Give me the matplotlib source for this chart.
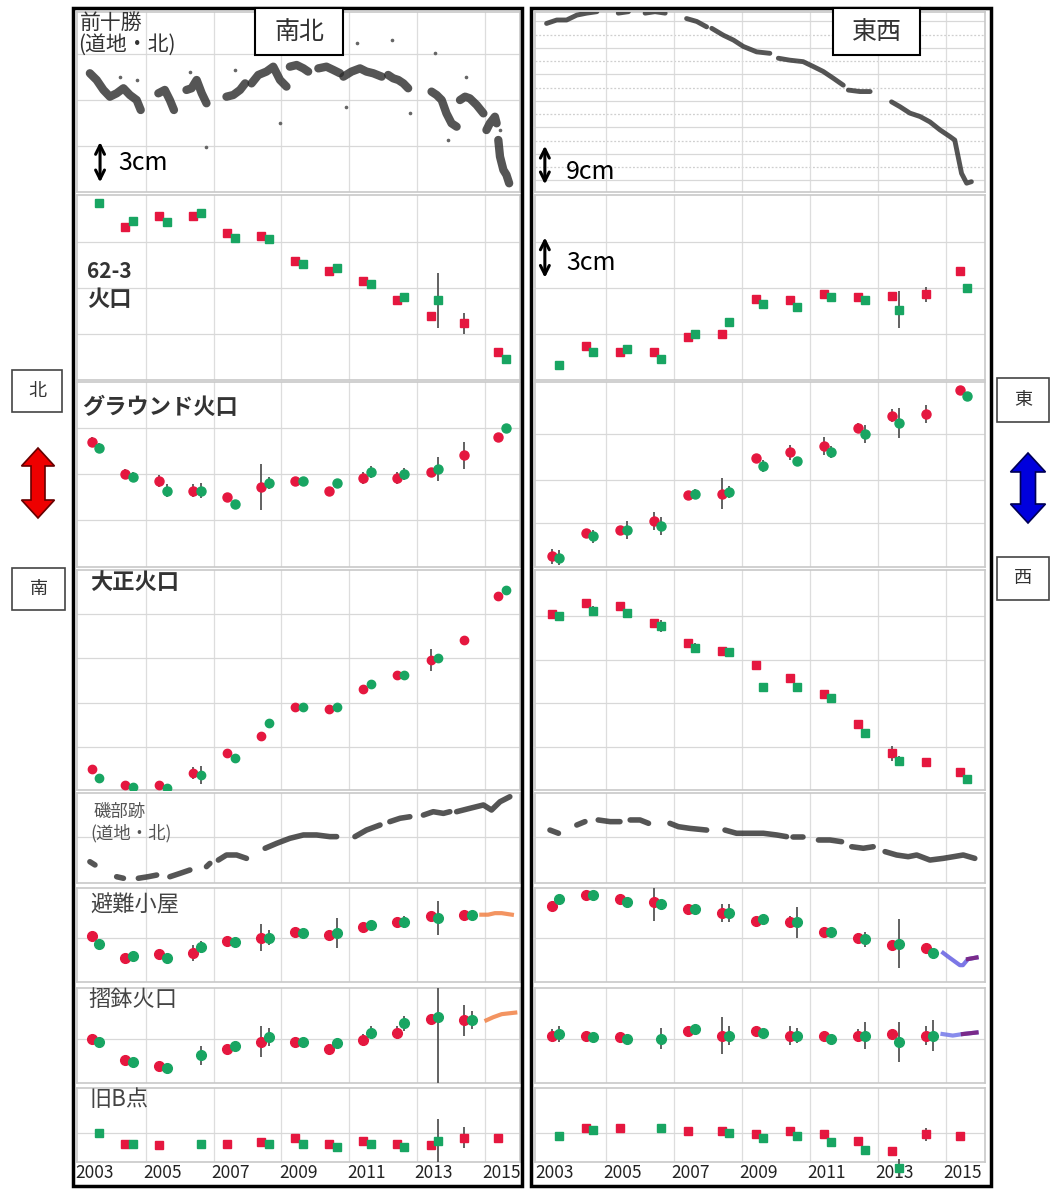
import matplotlib
matplotlib.use("Agg")
import matplotlib.pyplot as plt
import numpy as np
from matplotlib.patches import Rectangle, Polygon

plt.rcParams['font.family'] = ['Noto Sans CJK JP', 'DejaVu Sans']

W, H = 1051, 1189
nan = np.nan

# ---- campaign survey epochs (decimal year) ----
t_red = [2002.9, 2003.9, 2004.9, 2005.9, 2006.9, 2007.9, 2008.9,
         2009.9, 2010.9, 2011.9, 2012.9, 2013.9, 2014.9]
t_green = [2003.13, 2004.13, 2005.13, 2006.13, 2007.13, 2008.13, 2009.13,
           2010.13, 2011.13, 2012.13, 2013.13, 2014.13, 2015.13]

label_years = [2003, 2005, 2007, 2009, 2011, 2013, 2015]
grid_years = [2004.5, 2006.5, 2008.5, 2010.5, 2012.5, 2014.5]

# ---- campaign values (cm) ----
c623_ns_red = [nan, 10.0, 10.7, 10.7, 9.6, 9.4, 7.8, 7.1, 6.5, 5.2, 4.2, 3.7, 1.8]
c623_ns_green = [11.6, 10.4, 10.3, 10.9, 9.3, 9.2, 7.6, 7.3, 6.3, 5.4, 5.2, nan, 1.4]
c623_ns_red_err = [0, 0, 0, 0, 0, 0, 0, 0, 0, 0, 0, 0.7, 0]
c623_ns_green_err = [0, 0, 0, 0, 0, 0, 0, 0, 0, 0, 1.8, 0, 0]
c623_ew_red = [nan, 2.2, 1.8, 1.8, 2.8, 3.0, 5.3, 5.2, 5.6, 5.4, 5.5, 5.6, 7.1]
c623_ew_green = [1.0, 1.8, 2.0, 1.4, 3.0, 3.8, 5.0, 4.8, 5.4, 5.2, 4.6, nan, 6.0]
c623_ew_red_err = [0, 0, 0, 0, 0, 0, 0, 0, 0, 0, 0, 0.5, 0]
c623_ew_green_err = [0, 0, 0, 0, 0, 0, 0, 0, 0, 0, 1.2, 0, 0]

ground_ns_red = [8.2, 6.1, 5.6, 5.0, 4.6, 5.2, 5.6, 5.0, 5.8, 5.8, 6.2, 7.3, 8.5]
ground_ns_green = [7.8, 5.9, 5.0, 5.0, 4.1, 5.5, 5.6, 5.5, 6.2, 6.1, 6.4, nan, 9.1]
ground_ns_red_err = [0.3, 0.3, 0.4, 0.4, 0.2, 1.5, 0.3, 0, 0.4, 0.4, 0, 0.9, 0]
ground_ns_green_err = [0.3, 0.3, 0.4, 0.5, 0.2, 0.4, 0.3, 0, 0.4, 0.4, 0.8, 0, 0]
ground_ew_red = [0.7, 2.2, 2.4, 3.0, 4.7, 4.8, 7.1, 7.5, 7.9, 9.1, 9.9, 10.0, 11.6]
ground_ew_green = [0.6, 2.0, 2.4, 2.7, 4.8, 4.9, 6.6, 6.9, 7.5, 8.7, 9.4, nan, 11.2]
ground_ew_red_err = [0.5, 0.3, 0.3, 0.6, 0.2, 1.0, 0.2, 0.5, 0.6, 0.3, 0.4, 0.6, 0]
ground_ew_green_err = [0.5, 0.4, 0.6, 0.6, 0.3, 0.4, 0.4, 0.3, 0.4, 0.6, 1.0, 0, 0]

taisho_ns_red = [1.4, 0.3, 0.3, 1.1, 2.4, 3.5, 5.4, 5.3, 6.6, 7.5, 8.5, 9.8, 12.7]
taisho_ns_green = [0.8, 0.2, 0.1, 1.0, 2.1, 4.4, 5.4, 5.4, 6.9, 7.5, 8.6, nan, 13.1]
taisho_ns_red_err = [0, 0, 0, 0.4, 0, 0, 0, 0, 0, 0, 0.7, 0, 0]
taisho_ns_green_err = [0, 0, 0, 0.6, 0, 0, 0, 0, 0, 0, 0, 0, 0]
taisho_ew_red = [11.5, 12.2, 12.0, 10.9, 9.6, 9.1, 8.2, 7.3, 6.3, 4.3, 2.4, 1.8, 1.2]
taisho_ew_green = [11.4, 11.7, 11.6, 10.7, 9.3, 9.0, 6.7, 6.7, 6.0, 3.7, 1.9, nan, 0.7]
taisho_ew_red_err = [0, 0, 0, 0, 0, 0, 0, 0, 0, 0, 0.5, 0, 0]
taisho_ew_green_err = [0, 0.3, 0, 0.4, 0.3, 0, 0, 0, 0, 0, 0.3, 0, 0]

hinan_ns_red = [3.0, 1.6, 1.8, 1.9, 2.7, 2.9, 3.3, 3.1, 3.6, 3.9, 4.3, 4.4, nan]
hinan_ns_green = [2.5, 1.7, 1.6, 2.3, 2.6, 2.9, 3.2, 3.2, 3.7, 3.9, 4.2, 4.4, nan]
hinan_ns_red_err = [0, 0, 0, 0.5, 0, 0.9, 0, 0, 0, 0.3, 0, 0, 0]
hinan_ns_green_err = [0, 0, 0, 0.4, 0, 0.5, 0, 1.0, 0, 0.4, 1.1, 0, 0]
hinan_ew_red = [5.0, 5.7, 5.4, 5.2, 4.8, 4.5, 4.0, 3.9, 3.3, 2.9, 2.4, 2.2, nan]
hinan_ew_green = [5.4, 5.7, 5.2, 5.1, 4.8, 4.5, 4.1, 3.9, 3.3, 2.8, 2.5, 1.9, nan]
hinan_ew_red_err = [0, 0, 0, 1.2, 0, 0.6, 0, 0.4, 0, 0.3, 0, 0, 0]
hinan_ew_green_err = [0, 0, 0, 0, 0, 0.6, 0, 1.0, 0, 0.5, 1.6, 0, 0]

suribachi_ns_red = [2.9, 1.5, 1.1, nan, 2.2, 2.7, 2.7, 2.2, 2.8, 3.3, 4.2, 4.1, nan]
suribachi_ns_green = [2.7, 1.4, 1.0, 1.8, 2.4, 3.0, 2.7, 2.6, 3.3, 3.9, 4.3, 4.1, nan]
suribachi_ns_red_err = [0, 0, 0, 0, 0, 1.0, 0, 0, 0.4, 0.4, 0, 1.0, 0]
suribachi_ns_green_err = [0, 0, 0, 0.6, 0, 0.6, 0, 0, 0.4, 0.5, 4.5, 0.6, 0]
suribachi_ew_red = [3.1, 3.1, 3.0, nan, 3.4, 3.1, 3.4, 3.1, 3.1, 3.1, 3.2, 3.1, nan]
suribachi_ew_green = [3.2, 3.0, 2.9, 2.9, 3.5, 3.1, 3.3, 3.1, 2.9, 3.1, 2.7, 3.1, nan]
suribachi_ew_red_err = [0.4, 0, 0, 0, 0, 1.2, 0, 0.6, 0, 0.4, 0, 0.6, 0]
suribachi_ew_green_err = [0.5, 0.3, 0.3, 0.7, 0, 0.6, 0, 0.5, 0, 0.9, 1.3, 1.0, 0]

oldb_ns_red = [nan, 1.2, 1.1, nan, 1.2, 1.3, 1.6, 1.2, 1.4, 1.2, 1.1, 1.6, 1.6]
oldb_ns_green = [1.9, 1.2, nan, 1.2, nan, 1.2, 1.2, 1.0, 1.2, 1.0, 1.4, nan, nan]
oldb_ns_red_err = [0, 0, 0, 0, 0, 0, 0, 0, 0, 0, 0, 0.7, 0]
oldb_ns_green_err = [0, 0, 0, 0, 0, 0, 0, 0, 0, 0, 1.4, 0, 0]
oldb_ew_red = [nan, 2.2, 2.2, nan, 2.0, 2.0, 1.8, 2.0, 1.8, 1.4, 0.7, 1.8, 1.7]
oldb_ew_green = [1.7, 2.1, nan, 2.2, nan, 1.9, 1.6, 1.7, 1.3, 0.8, -0.4, nan, nan]
oldb_ew_red_err = [0, 0, 0, 0, 0, 0, 0, 0, 0, 0, 0, 0.4, 0]
oldb_ew_green_err = [0, 0, 0, 0, 0, 0, 0, 0, 0, 0, 0.6, 0, 0]

# ---- continuous GPS (segments of [years], [cm]) ----
maetokachi_ns = [
    ([2002.85, 2003.05, 2003.25, 2003.44, 2003.64, 2003.84, 2004.03, 2004.23, 2004.35],
     [7.76, 7.32, 6.67, 6.23, 6.45, 6.78, 6.34, 6.01, 5.36]),
    ([2004.87, 2005.06, 2005.21, 2005.33], [6.45, 6.67, 6.01, 5.36]),
    ([2005.70, 2005.85, 2006.00, 2006.15, 2006.29], [6.67, 6.78, 7.32, 6.45, 5.80]),
    ([2006.88, 2007.08, 2007.28, 2007.43], [6.23, 6.34, 6.67, 7.10]),
    ([2007.62, 2007.82, 2008.06, 2008.26, 2008.46, 2008.65], [7.10, 7.65, 7.87, 8.19, 7.32, 6.89]),
    ([2008.75, 2008.95, 2009.15, 2009.29], [8.19, 8.30, 8.08, 7.87]),
    ([2009.59, 2009.83, 2010.03, 2010.23], [8.08, 8.19, 7.98, 7.76]),
    ([2010.33, 2010.57, 2010.82, 2011.01, 2011.21, 2011.46], [7.54, 7.87, 8.08, 7.87, 7.76, 7.54]),
    ([2011.65, 2011.80, 2011.95, 2012.10, 2012.24], [7.65, 7.43, 7.32, 7.10, 6.78]),
    ([2012.93, 2013.08, 2013.23, 2013.37, 2013.52, 2013.67], [6.56, 6.34, 6.01, 5.14, 4.49, 4.27]),
    ([2013.77, 2013.92, 2014.06, 2014.26, 2014.46], [6.01, 6.23, 6.12, 5.69, 5.14]),
    ([2014.55, 2014.65, 2014.80, 2014.85], [4.05, 4.49, 4.92, 4.49]),
    ([2014.90, 2014.95, 2015.05, 2015.14, 2015.22], [3.40, 2.31, 1.44, 1.12, 0.57]),
]
maetokachi_ns_out_t = [2003.74, 2004.23, 2005.80, 2006.29, 2007.13, 2008.46, 2010.42,
                       2010.72, 2011.75, 2012.29, 2013.03, 2013.42, 2013.96, 2014.95]
maetokachi_ns_out_y = [7.54, 7.32, 7.86, 2.96, 7.97, 4.49, 5.58,
                       9.72, 9.93, 5.14, 9.06, 3.40, 7.54, 4.05]

maetokachi_ew = [
    ([2002.75, 2003.05, 2003.34, 2003.64, 2003.93, 2004.23], [34.4, 35.1, 35.1, 36.1, 36.5, 36.8]),
    ([2004.86, 2005.16], [36.5, 36.8]),
    ([2005.65, 2005.94, 2006.24], [36.5, 36.8, 36.5]),
    ([2006.87, 2007.17, 2007.46], [35.4, 34.8, 33.7]),
    ([2007.61, 2007.95, 2008.25, 2008.54, 2008.93, 2009.32], [33.4, 32.0, 31.0, 29.7, 28.6, 28.3]),
    ([2009.57, 2009.91, 2010.30, 2010.60, 2010.89, 2011.19, 2011.48],
     [27.3, 26.9, 26.6, 25.6, 24.6, 23.2, 21.8]),
    ([2011.63, 2011.97, 2012.27], [20.8, 20.5, 20.5]),
    ([2012.90, 2013.15, 2013.44, 2013.74, 2014.03, 2014.32, 2014.62, 2014.76,
      2014.86, 2014.96, 2015.11, 2015.25],
     [18.4, 17.4, 16.1, 15.4, 14.3, 12.7, 11.3, 10.6, 7.2, 3.8, 1.8, 2.1]),
]

isobe_ns = [
    ([2002.85, 2003.00], [1.39, 1.18]),
    ([2003.64, 2003.84], [0.41, 0.31]),
    ([2004.28, 2004.57, 2004.82], [0.31, 0.41, 0.52]),
    ([2005.21, 2005.51, 2005.80], [0.41, 0.63, 0.85]),
    ([2006.29, 2006.39], [1.07, 1.28]),
    ([2006.64, 2006.88, 2007.18, 2007.47], [1.50, 1.83, 1.83, 1.61]),
    ([2008.02, 2008.36, 2008.75, 2009.15, 2009.54, 2009.93, 2010.13],
     [2.27, 2.59, 2.92, 3.14, 3.14, 3.03, 3.03]),
    ([2010.67, 2011.01, 2011.41], [3.03, 3.46, 3.79]),
    ([2011.70, 2012.00, 2012.29], [4.01, 4.23, 4.33]),
    ([2012.69, 2012.98, 2013.28, 2013.47], [4.44, 4.66, 4.55, 4.66]),
    ([2013.67, 2014.06, 2014.46, 2014.70, 2014.95, 2015.24], [4.66, 4.88, 5.10, 4.77, 5.31, 5.64]),
]
isobe_ew = [
    ([2002.85, 2003.10], [3.46, 3.25]),
    ([2003.64, 2003.88], [3.79, 4.01]),
    ([2004.27, 2004.62, 2004.91], [4.12, 4.01, 4.01]),
    ([2005.21, 2005.50, 2005.75], [4.12, 4.12, 3.90]),
    ([2006.38, 2006.63, 2006.97, 2007.46], [3.90, 3.68, 3.57, 3.46]),
    ([2008.00, 2008.34, 2008.74, 2009.13, 2009.52, 2009.81], [3.46, 3.25, 3.25, 3.25, 3.14, 3.03]),
    ([2010.01, 2010.30], [3.03, 3.03]),
    ([2010.75, 2011.09, 2011.43], [2.81, 2.81, 2.70]),
    ([2011.73, 2012.07, 2012.36], [2.37, 2.27, 2.37]),
    ([2012.71, 2013.05, 2013.39, 2013.64, 2014.03, 2014.42, 2014.72, 2015.01, 2015.35],
     [2.05, 1.83, 1.72, 1.83, 1.50, 1.61, 1.72, 1.83, 1.61]),
]

hinan_ns_gps_t = [2014.40, 2014.60, 2014.80, 2015.00, 2015.30]
hinan_ns_gps_y = [4.4, 4.4, 4.5, 4.5, 4.4]
hinan_ew_gps_t = [2014.42, 2014.60, 2014.91, 2015.00, 2015.15, 2015.40]
hinan_ew_gps_y = [1.9, 1.6, 1.1, 1.1, 1.5, 1.6]
suribachi_ns_gps_t = [2014.55, 2014.75, 2015.00, 2015.40]
suribachi_ns_gps_y = [4.1, 4.3, 4.5, 4.6]
suribachi_ew_gps_t = [2014.40, 2014.70, 2015.00, 2015.40]
suribachi_ew_gps_y = [3.2, 3.1, 3.2, 3.3]

RED = '#e5173f'
GREEN = '#18a562'
PPC = 15.3  # pixels per cm in the campaign panels

rows = [(12, 192), (195, 380), (382, 567), (570, 790),
        (793, 883), (888, 982), (988, 1083), (1088, 1162)]
cols = {'L': (77, 520, (2002.47, 2015.54)), 'R': (535, 985, (2002.41, 2015.65))}

fig = plt.figure(figsize=(W / 100, H / 100), dpi=100)


def panel(col, row, ppc=PPC, ylevels=(3, 6, 9)):
    x0, x1, xl = cols[col]
    y0, y1 = rows[row]
    ax = fig.add_axes([x0 / W, 1 - y1 / H, (x1 - x0) / W, (y1 - y0) / H])
    ax.set_xlim(*xl)
    ax.set_ylim(0, (y1 - y0) / ppc)
    ax.set_xticks(label_years)
    ax.set_xticks(grid_years, minor=True)
    ax.set_yticks(list(ylevels))
    ax.grid(which='minor', axis='x', color='#dddddd', lw=0.9)
    ax.grid(which='major', axis='y', color='#d8d8d8', lw=0.9)
    ax.tick_params(which='both', length=0, labelleft=False, labelbottom=False)
    for s in ax.spines.values():
        s.set_color('#c8c8c8')
        s.set_linewidth(1.2)
    return ax


def campaign(ax, red, green, rerr, gerr, marker='s', ms=5.5, clip=True):
    for t, v, e, c in ((t_red, red, rerr, RED), (t_green, green, gerr, GREEN)):
        ax.errorbar(t, v, yerr=e, fmt=marker, color=c, ms=ms, mec=c,
                    ecolor='#555555', elinewidth=1.3, capsize=0, zorder=3,
                    clip_on=clip)


def continuous(ax, segments, lw=5, color='#2b2b2b'):
    for t, v in segments:
        ax.plot(t, v, color=color, lw=lw, alpha=0.8, solid_capstyle='round', zorder=3)


# row 0: 前十勝 continuous
ax = panel('L', 0, ylevels=(3, 6, 9))
continuous(ax, maetokachi_ns, lw=6)
ax.plot(maetokachi_ns_out_t, maetokachi_ns_out_y, 'o', color='#666666', ms=1.6, zorder=3)
ax.annotate('', xy=(2003.15, 0.45), xytext=(2003.15, 3.45),
            arrowprops=dict(arrowstyle='<->', lw=2.2, color='black', mutation_scale=16))

ax = panel('R', 0, ppc=4.9, ylevels=np.arange(2.4, 37, 5.4))
for lev in np.arange(5.1, 37, 5.4):
    ax.axhline(lev, color='#cfcfcf', lw=0.9, ls=(0, (1.5, 1.5)), zorder=1)
continuous(ax, maetokachi_ew, lw=3.5)
ax.annotate('', xy=(2002.7, 1.0), xytext=(2002.7, 10.0),
            arrowprops=dict(arrowstyle='<->', lw=2.2, color='black', mutation_scale=16))

# row 1: 62-3 crater
ax = panel('L', 1)
campaign(ax, c623_ns_red, c623_ns_green, c623_ns_red_err, c623_ns_green_err)
ax = panel('R', 1)
campaign(ax, c623_ew_red, c623_ew_green, c623_ew_red_err, c623_ew_green_err)
ax.annotate('', xy=(2002.7, 6.5), xytext=(2002.7, 9.5),
            arrowprops=dict(arrowstyle='<->', lw=2.2, color='black', mutation_scale=16))

# row 2: グラウンド火口
ax = panel('L', 2, ylevels=(3.1, 6.1, 9.1))
campaign(ax, ground_ns_red, ground_ns_green, ground_ns_red_err, ground_ns_green_err, 'o', 6.5)
ax = panel('R', 2, ylevels=(2.9, 5.7, 8.7))
campaign(ax, ground_ew_red, ground_ew_green, ground_ew_red_err, ground_ew_green_err, 'o', 6.5)

# row 3: 大正火口
ax = panel('L', 3, ylevels=(2.8, 5.7, 8.6, 11.5))
campaign(ax, taisho_ns_red, taisho_ns_green, taisho_ns_red_err, taisho_ns_green_err, 'o', 6)
ax = panel('R', 3, ylevels=(2.8, 5.7, 8.5, 11.4))
campaign(ax, taisho_ew_red, taisho_ew_green, taisho_ew_red_err, taisho_ew_green_err, 's', 5.5)

# row 4: 磯部跡 continuous
ax = panel('L', 4, ylevels=(3.0,))
continuous(ax, isobe_ns, lw=4)
ax = panel('R', 4, ylevels=(3.0,))
continuous(ax, isobe_ew, lw=4)

# row 5: 避難小屋
ax = panel('L', 5, ylevels=(2.9,))
campaign(ax, hinan_ns_red, hinan_ns_green, hinan_ns_red_err, hinan_ns_green_err, 'o', 7)
ax.plot(hinan_ns_gps_t, hinan_ns_gps_y, color='#f07a3a', lw=3, alpha=0.8, zorder=2)
ax = panel('R', 5, ylevels=(2.9,))
campaign(ax, hinan_ew_red, hinan_ew_green, hinan_ew_red_err, hinan_ew_green_err, 'o', 7)
ax.plot(hinan_ew_gps_t, hinan_ew_gps_y, color='#5b55e0', lw=3, alpha=0.8, zorder=2)
ax.plot(hinan_ew_gps_t[-2:], hinan_ew_gps_y[-2:], color='#7a2a8a', lw=3, zorder=2)

# row 6: 摺鉢火口
ax = panel('L', 6, ylevels=(2.9,))
campaign(ax, suribachi_ns_red, suribachi_ns_green, suribachi_ns_red_err, suribachi_ns_green_err, 'o', 7)
ax.plot(suribachi_ns_gps_t, suribachi_ns_gps_y, color='#f07a3a', lw=3, alpha=0.8, zorder=2)
ax = panel('R', 6, ylevels=(2.9,))
campaign(ax, suribachi_ew_red, suribachi_ew_green, suribachi_ew_red_err, suribachi_ew_green_err, 'o', 7)
ax.plot(suribachi_ew_gps_t, suribachi_ew_gps_y, color='#6a70e8', lw=3, alpha=0.8, zorder=2)
ax.plot(suribachi_ew_gps_t[-2:], suribachi_ew_gps_y[-2:], color='#7a2a8a', lw=3, zorder=2)

# row 7: 旧B点 (with year labels)
for col, red, green, rerr, gerr in (('L', oldb_ns_red, oldb_ns_green, oldb_ns_red_err, oldb_ns_green_err),
                                    ('R', oldb_ew_red, oldb_ew_green, oldb_ew_red_err, oldb_ew_green_err)):
    ax = panel(col, 7, ylevels=(1.9,))
    campaign(ax, red, green, rerr, gerr, 's', 5.5, clip=False)
    ax.tick_params(labelbottom=True, pad=1.5, labelsize=12.5, labelcolor='#222222')

# ---- overlay: frames, titles and labels in pixel coordinates ----
ov = fig.add_axes([0, 0, 1, 1], zorder=10)
ov.set_xlim(0, W)
ov.set_ylim(H, 0)
ov.axis('off')
ov.patch.set_alpha(0)

ov.add_patch(Rectangle((73, 8), 449, 1178, fill=False, lw=2.5, ec='black'))
ov.add_patch(Rectangle((531, 8), 460, 1178, fill=False, lw=2.5, ec='black'))

for x, w, txt in ((255, 88, '南北'), (833, 87, '東西')):
    ov.add_patch(Rectangle((x, 8), w, 47, fc='white', ec='black', lw=1.5))
    ov.text(x + w / 2, 32, txt, fontsize=18, ha='center', va='center', color='#333333')

for x, y, w, h, txt in ((12, 370, 50, 42, '北'), (12, 568, 53, 42, '南'),
                        (997, 378, 52, 44, '東'), (997, 557, 52, 43, '西')):
    ov.add_patch(Rectangle((x, y), w, h, fc='white', ec='#444444', lw=1.2))
    ov.text(x + w / 2, y + h / 2, txt, fontsize=13, ha='center', va='center', color='#333333')


def double_arrow(cx, y0, y1, w, sw, hl, fc, ec):
    pts = [(cx, y0), (cx + w / 2, y0 + hl), (cx + sw / 2, y0 + hl), (cx + sw / 2, y1 - hl),
           (cx + w / 2, y1 - hl), (cx, y1), (cx - w / 2, y1 - hl), (cx - sw / 2, y1 - hl),
           (cx - sw / 2, y0 + hl), (cx - w / 2, y0 + hl)]
    ov.add_patch(Polygon(pts, closed=True, fc=fc, ec=ec, lw=1.2))


double_arrow(38, 448, 518, 33, 14, 18, '#ee0000', '#660000')
double_arrow(1028, 453, 523, 35, 15, 19, '#0000dd', '#000055')

ov.text(118, 163, '3cm', fontsize=18, ha='left', va='center')
ov.text(566, 172, '9cm', fontsize=18, ha='left', va='center')
ov.text(566, 263, '3cm', fontsize=18, ha='left', va='center')

ov.text(80, 23, '前十勝', fontsize=15, ha='left', va='center', color='#333333')
ov.text(78, 45, '(道地・北)', fontsize=15, ha='left', va='center', color='#333333')
ov.text(87, 272, '62-3', fontsize=15, ha='left', va='center', color='#333333', weight='bold')
ov.text(87, 300, '火口', fontsize=16, ha='left', va='center', color='#333333', weight='bold')
ov.text(82, 408, 'グラウンド火口', fontsize=16, ha='left', va='center', color='#333333', weight='bold')
ov.text(90, 582, '大正火口', fontsize=16, ha='left', va='center', color='#333333', weight='bold')
ov.text(94, 812, '磯部跡', fontsize=12.5, ha='left', va='center', color='#555555')
ov.text(90, 833, '(道地・北)', fontsize=12.5, ha='left', va='center', color='#555555')
ov.text(90, 905, '避難小屋', fontsize=16, ha='left', va='center', color='#444444')
ov.text(88, 999, '摺鉢火口', fontsize=16, ha='left', va='center', color='#444444')
ov.text(90, 1100, '旧B点', fontsize=16, ha='left', va='center', color='#444444')

fig.savefig('out.png', dpi=100)
